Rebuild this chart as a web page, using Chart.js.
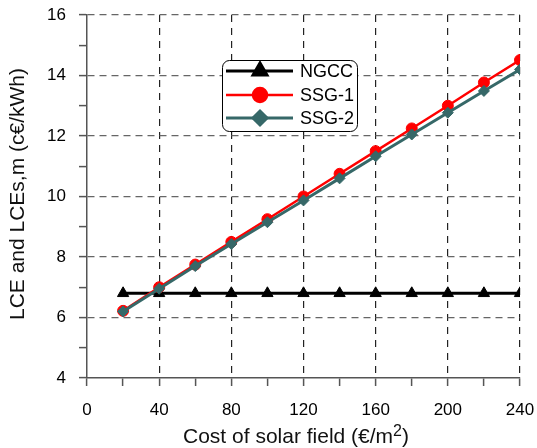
<!DOCTYPE html>
<html>
<head>
<meta charset="utf-8">
<script src="https://cdn.jsdelivr.net/npm/chart.js@4/dist/chart.umd.min.js"></script>
<style>
  html, body { margin: 0; padding: 0; background: #fff; }
  canvas { display: block; }
</style>
</head>
<body>
<canvas id="chart" width="537" height="448"></canvas>
<script>
const solarCost = [20, 40, 60, 80, 100, 120, 140, 160, 180, 200, 220, 240];
const ngcc = [6.8, 6.8, 6.8, 6.8, 6.8, 6.8, 6.8, 6.8, 6.8, 6.8, 6.8, 6.8];
const ssg1 = [6.22, 7.0, 7.75, 8.5, 9.25, 10.0, 10.75, 11.5, 12.25, 13.0, 13.77, 14.51];
const ssg2 = [6.2, 6.95, 7.7, 8.43, 9.15, 9.87, 10.6, 11.33, 12.05, 12.77, 13.49, 14.2];
const seriesNames = ["NGCC", "SSG-1", "SSG-2"];
const xTicks = [0, 40, 80, 120, 160, 200, 240];
const yTicks = [4, 6, 8, 10, 12, 14, 16];

const FONT = "'Liberation Sans', Arial, sans-serif";

function points(values) {
  return solarCost.map((x, i) => ({ x, y: values[i] }));
}

const datasets = [
  {
    label: seriesNames[0], data: points(ngcc), order: 3,
    borderColor: "#000", backgroundColor: "#000", borderWidth: 3,
    pointStyle: "triangle", pointRadius: 6.5, pointBorderWidth: 1
  },
  {
    label: seriesNames[1], data: points(ssg1), order: 2,
    borderColor: "#ff0000", backgroundColor: "#ff0000", borderWidth: 2.5,
    pointStyle: "circle", pointRadius: 5.5, pointBorderWidth: 1
  },
  {
    label: seriesNames[2], data: points(ssg2), order: 1,
    borderColor: "#366868", backgroundColor: "#366868", borderWidth: 3,
    pointStyle: "rectRot", pointRadius: 5.5, pointBorderWidth: 1
  }
];

// legend box drawn inside the plot, plus axis titles with superscript
const decorations = {
  id: "decorations",
  afterDatasetsDraw(c) {
    const ctx = c.ctx;
    ctx.save();
    ctx.beginPath();
    ctx.roundRect(222.5, 60.5, 135, 71, 7);
    ctx.fillStyle = "#fff";
    ctx.fill();
    ctx.strokeStyle = "#000";
    ctx.lineWidth = 1;
    ctx.stroke();

    const rows = [71, 95, 118];
    datasets.forEach((ds, i) => {
      const y = rows[i];
      ctx.strokeStyle = ds.borderColor;
      ctx.lineWidth = ds.borderWidth;
      ctx.beginPath();
      ctx.moveTo(226, y);
      ctx.lineTo(293, y);
      ctx.stroke();
      Chart.helpers.drawPoint(ctx, {
        pointStyle: ds.pointStyle, radius: ds.pointRadius + 1.5, borderWidth: 1, rotation: 0
      }, 260, y);
      ctx.fillStyle = ds.backgroundColor;
      ctx.fill();
      ctx.fillStyle = "#000";
      ctx.font = "18px " + FONT;
      ctx.textAlign = "left";
      ctx.textBaseline = "middle";
      ctx.fillText(ds.label, 300, y + 1);
    });
    ctx.restore();
  },
  afterDraw(c) {
    const ctx = c.ctx;
    ctx.save();
    ctx.fillStyle = "#111";
    ctx.textBaseline = "middle";

    // y title
    ctx.font = "21px " + FONT;
    ctx.translate(18, 194);
    ctx.rotate(-Math.PI / 2);
    ctx.textAlign = "center";
    ctx.fillText("LCE and LCEs,m (c€/kWh)", 0, 0);
    ctx.setTransform(1, 0, 0, 1, 0, 0);

    // x title with superscript
    const main = "Cost of solar field (€/m";
    const sup = "2";
    const tail = ")";
    ctx.font = "21px " + FONT;
    const wMain = ctx.measureText(main).width;
    const wTail = ctx.measureText(tail).width;
    ctx.font = "16px " + FONT;
    const wSup = ctx.measureText(sup).width;
    let x = 296 - (wMain + wSup + wTail) / 2;
    const y = 437;
    ctx.textAlign = "left";
    ctx.font = "21px " + FONT;
    ctx.fillText(main, x, y);
    x += wMain;
    ctx.font = "16px " + FONT;
    ctx.fillText(sup, x, y - 5);
    x += wSup;
    ctx.font = "21px " + FONT;
    ctx.fillText(tail, x, y);
    ctx.restore();
  }
};

new Chart(document.getElementById("chart"), {
  type: "line",
  data: { datasets },
  plugins: [decorations],
  options: {
    responsive: false,
    animation: false,
    layout: { padding: { top: 15, right: 17, left: 0, bottom: 0 } },
    plugins: { legend: { display: false }, tooltip: { enabled: false } },
    scales: {
      x: {
        type: "linear",
        min: 0,
        max: 240,
        afterFit: (s) => { s.height = 70; s.paddingLeft = 0; s.paddingRight = 0; },
        ticks: {
          stepSize: 20,
          padding: 14,
          color: "#000",
          font: { family: FONT, size: 17 },
          maxRotation: 0,
          autoSkip: false,
          callback: (v) => (xTicks.includes(v) ? String(v) : "")
        },
        grid: {
          color: (ctx) => (ctx.tick && xTicks.includes(ctx.tick.value) && ctx.tick.value !== 0 ? "#222" : "rgba(0,0,0,0)"),
          lineWidth: 1.2,
          tickColor: "#555",
          tickLength: 8,
          tickWidth: 1.5,
          tickBorderDash: []
        },
        border: { display: true, color: "#555", width: 1.5, dash: [7, 6] }
      },
      y: {
        min: 4,
        max: 16,
        afterFit: (s) => { s.width = 87; s.paddingTop = 0; s.paddingBottom = 0; },
        ticks: {
          stepSize: 1,
          padding: 13,
          color: "#000",
          font: { family: FONT, size: 17 },
          autoSkip: false,
          callback: (v) => (yTicks.includes(v) ? String(v) : "")
        },
        grid: {
          color: (ctx) => (ctx.tick && yTicks.includes(ctx.tick.value) && ctx.tick.value !== 4 ? "#666" : "rgba(0,0,0,0)"),
          lineWidth: 1.2,
          tickColor: "#555",
          tickLength: 8,
          tickWidth: 1.5,
          tickBorderDash: []
        },
        border: { display: true, color: "#555", width: 1.5, dash: [7, 5] }
      }
    }
  }
});
</script>
</body>
</html>
